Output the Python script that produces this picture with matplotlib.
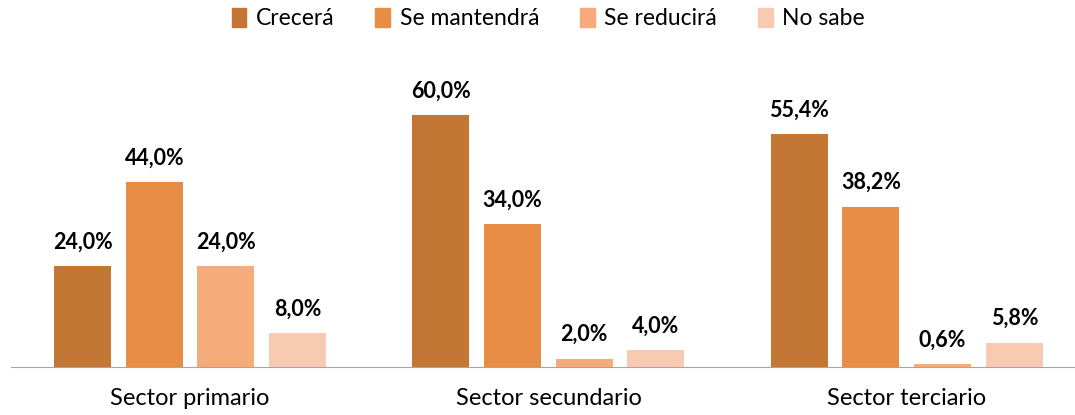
import numpy as np
import matplotlib.pyplot as plt
from matplotlib.patches import Patch

plt.rcParams['font.family'] = ['Lato', 'DejaVu Sans']

# datos
sectores = ["Sector primario", "Sector secundario", "Sector terciario"]
series = ["Crecerá", "Se mantendrá", "Se reducirá", "No sabe"]
crecera = [24.0, 60.0, 55.4]
mantendra = [44.0, 34.0, 38.2]
reducira = [24.0, 2.0, 0.6]
no_sabe = [8.0, 4.0, 5.8]
colores = ["#C47634", "#E88D45", "#F6AB7A", "#F8CAB2"]

valores = [crecera, mantendra, reducira, no_sabe]

fig = plt.figure(figsize=(10.75, 4.15), dpi=100)
ax = fig.add_axes([0.0102, 0.1157, 1.0, 0.708])

x = np.arange(len(sectores))
ancho = 0.159
paso = 0.2

for i, (vals, col) in enumerate(zip(valores, colores)):
    pos = x + (i - 1.5) * paso
    barras = ax.bar(pos, vals, width=ancho, color=col, label=series[i])
    for b, v in zip(barras, vals):
        ax.annotate(f"{v:.1f}%".replace(".", ","),
                    (b.get_x() + b.get_width() / 2, b.get_height()),
                    xytext=(0, 10), textcoords="offset points",
                    ha="center", va="bottom", fontsize=15.5, fontweight="bold")

ax.set_xlim(-0.5, 2.5)
ax.set_ylim(0, 70)
ax.set_xticks(x)
ax.set_xticklabels(sectores, fontsize=17)
ax.tick_params(axis="x", length=0, pad=15)
ax.set_yticks([])
for s in ["top", "right", "left"]:
    ax.spines[s].set_visible(False)
ax.spines["bottom"].set_color("#A6A6A6")

handles = [Patch(color=c, label=s) for c, s in zip(colores, series)]
fig.legend(handles=handles, loc="center", bbox_to_anchor=(0.51, 0.955), ncol=4,
           frameon=False, fontsize=16.5, handlelength=0.65, handleheight=0.9,
           handletextpad=0.4, columnspacing=1.8)

fig.savefig("out.png", dpi=100)
